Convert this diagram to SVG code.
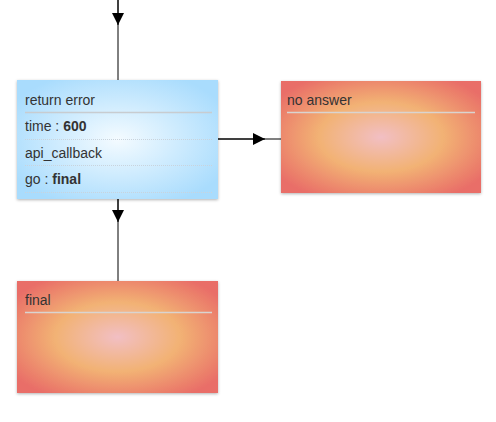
<svg xmlns="http://www.w3.org/2000/svg" width="496" height="422" viewBox="0 0 496 422">
<style>
.t{font-family:"Liberation Sans",Arial,sans-serif;font-size:14px;fill:#333}
.b{font-weight:bold}
.sep{stroke:#c8ccd0;stroke-width:1.5}
.dot{stroke:#c9d3dc;stroke-width:1;stroke-dasharray:1 1}
.osep{stroke:#d9d4d0;stroke-width:1.5}
.c{stroke:#000;stroke-width:1;fill:none}
</style>
<defs>
<radialGradient id="gb" cx="0.5" cy="0.5" r="0.6">
<stop offset="0" stop-color="#f4fbff"/>
<stop offset="1" stop-color="#a9dcfd"/>
</radialGradient>
<radialGradient id="go" cx="0.5" cy="0.5" r="0.62">
<stop offset="0" stop-color="#f2bfc4"/>
<stop offset="0.5" stop-color="#f2b274"/>
<stop offset="1" stop-color="#e96e68"/>
</radialGradient>
<filter id="sh" x="-10%" y="-10%" width="120%" height="125%">
<feDropShadow dx="0" dy="1" stdDeviation="1.5" flood-color="#000" flood-opacity="0.3"/>
</filter>
<marker id="ar" viewBox="0 0 12 12" refX="12" refY="6" markerWidth="12" markerHeight="12" markerUnits="userSpaceOnUse" orient="auto">
<path d="M0,0 L12,6 L0,12 Z" fill="#000"/>
</marker>
</defs>
<g id="connectors">
<line class="c" x1="118" y1="0" x2="118" y2="80"/>
<line class="c" x1="118" y1="0" x2="118" y2="25" marker-end="url(#ar)"/>
<line class="c" x1="218" y1="139" x2="281" y2="139"/>
<line class="c" x1="218" y1="139" x2="265" y2="139" marker-end="url(#ar)"/>
<line class="c" x1="118" y1="199" x2="118" y2="281"/>
<line class="c" x1="118" y1="199" x2="118" y2="222" marker-end="url(#ar)"/>
</g>
<g id="return_error">
<rect x="17" y="80" width="201" height="119" fill="url(#gb)" filter="url(#sh)"/>
<text class="t" x="25" y="105">return error</text>
<line class="sep" x1="25" y1="112.5" x2="212" y2="112.5"/>
<text class="t" x="25" y="131">time : <tspan class="b">600</tspan></text>
<line class="dot" x1="25" y1="139.5" x2="212" y2="139.5"/>
<text class="t" x="25" y="158">api_callback</text>
<line class="dot" x1="25" y1="165.5" x2="212" y2="165.5"/>
<text class="t" x="25" y="184">go : <tspan class="b">final</tspan></text>
<line class="dot" x1="25" y1="192.5" x2="212" y2="192.5"/>
</g>
<g id="no_answer">
<rect x="281" y="81" width="200" height="112" fill="url(#go)" filter="url(#sh)"/>
<text class="t" x="287" y="105">no answer</text>
<line class="osep" x1="287" y1="112.5" x2="475" y2="112.5"/>
</g>
<g id="final">
<rect x="17" y="281" width="201" height="112" fill="url(#go)" filter="url(#sh)"/>
<text class="t" x="25" y="305">final</text>
<line class="osep" x1="25" y1="312.5" x2="212" y2="312.5"/>
</g>
</svg>
